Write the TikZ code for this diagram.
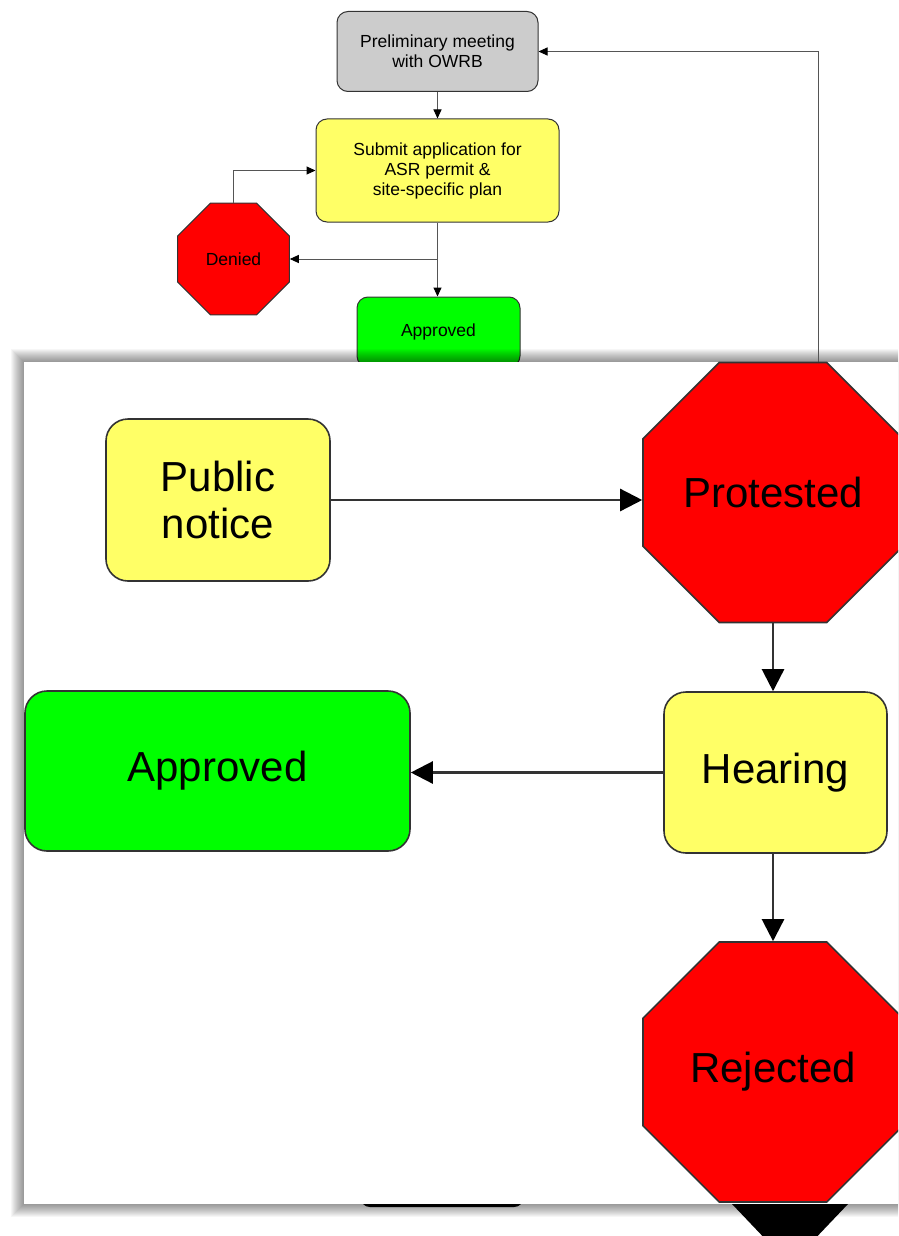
\documentclass[tikz,border=0pt]{standalone}
\usepackage{fontspec}
\setmainfont{Liberation Sans}
\usetikzlibrary{arrows.meta,shapes.geometric}
\definecolor{boxyellow}{HTML}{FFFF66}
\definecolor{boxgreen}{HTML}{00FF00}
\definecolor{boxred}{HTML}{FF0000}
\definecolor{boxgray}{HTML}{CCCCCC}
\definecolor{edgegray}{HTML}{333333}
\definecolor{linegray}{HTML}{555555}
\newcommand\fsTop{\fontsize{17.5}{20}\selectfont}
\newcommand\fsBig{\fontsize{42}{47}\selectfont}

\begin{document}
\begin{tikzpicture}[x=1pt,y=-1pt,
  tbox/.style={draw=edgegray,line width=1pt,rounded corners=11pt,inner sep=0pt,align=center,font=\fsTop},
  bbox/.style={draw=edgegray,line width=1.6pt,rounded corners=22pt,inner sep=0pt,align=center,font=\fsBig},
  octo/.style={regular polygon,regular polygon sides=8,draw=edgegray,fill=boxred,inner sep=0pt,align=center},
  tline/.style={draw=linegray,line width=1pt,-{Triangle[length=9pt,width=8pt,color=black]}},
  bline/.style={draw=edgegray,line width=2.4pt,-{Triangle[length=22pt,width=22pt,color=black]}}]

\useasboundingbox (0,0) rectangle (898,1236);
\clip (0,0) rectangle (898,1236);
\fill[white] (0,0) rectangle (898,1236);

% ---- overview flow ----
\node[tbox,fill=boxgray,minimum width=201pt,minimum height=80pt] (prelim) at (437.5,51.5)
  {Preliminary meeting\\with OWRB};
\node[tbox,fill=boxyellow,minimum width=243pt,minimum height=103pt] (submit) at (437.5,170.5)
  {Submit application for\\ASR permit \&\\site-specific plan};
\node[octo,line width=1pt,minimum size=120.7pt,font=\fsTop] (denied) at (233.5,259) {Denied};
\node[tbox,fill=boxgreen,minimum width=163pt,minimum height=70pt] (apprS) at (438.5,332) {Approved};

\coordinate (split) at (submit.south |- denied.east);
\draw[tline] (prelim.south) -- (submit.north);
\draw[tline] (submit.south) -- (submit.south |- apprS.north);
\draw[tline] (split) -- (denied.east);
\draw[tline] (denied.north) |- (submit.west);

% ---- pieces of the enlarged chart showing below the inset ----
\fill[black] (732,1204) -- (848,1204) -- (790,1265) -- cycle;
\draw[black,line width=3pt,rounded corners=8pt] (362,1190) -- (362,1205.5) -- (522,1205.5) -- (522,1190);

% ---- inset shadow ----
\foreach \i in {1,...,13}
  \fill[black,opacity=0.035] ({24-\i},{362-\i}) rectangle ({930+\i},{1204+\i});

% return connector from the inset back to the meeting
\coordinate (ret) at (818,362);
\draw[tline] (ret) |- (prelim.east);

% ---- enlarged inset ----
\fill[white] (24,362) rectangle (930,1204);

\node[bbox,fill=boxyellow,minimum width=224pt,minimum height=162pt] (notice) at (218,500) {Public\\notice};
\node[octo,line width=1.6pt,minimum size=281.4pt,font=\fsBig] (protest) at (773,492.5) {Protested};
\node[bbox,fill=boxyellow,minimum width=223pt,minimum height=161pt] (hearing) at (775.5,772.5) {Hearing};
\node[bbox,fill=boxgreen,minimum width=385pt,minimum height=160pt] (apprB) at (217.5,771) {Approved};
\node[octo,line width=1.6pt,minimum size=281.4pt,font=\fsBig] (reject) at (773,1072) {Rejected};

\draw[bline] (notice.east) -- (notice.east -| protest.west);
\draw[bline] (protest.south) -- (protest.south |- hearing.north);
\draw[bline] (hearing.west) -- (hearing.west -| apprB.east);
\draw[bline] (reject.north |- hearing.south) -- (reject.north);
\end{tikzpicture}
\end{document}
